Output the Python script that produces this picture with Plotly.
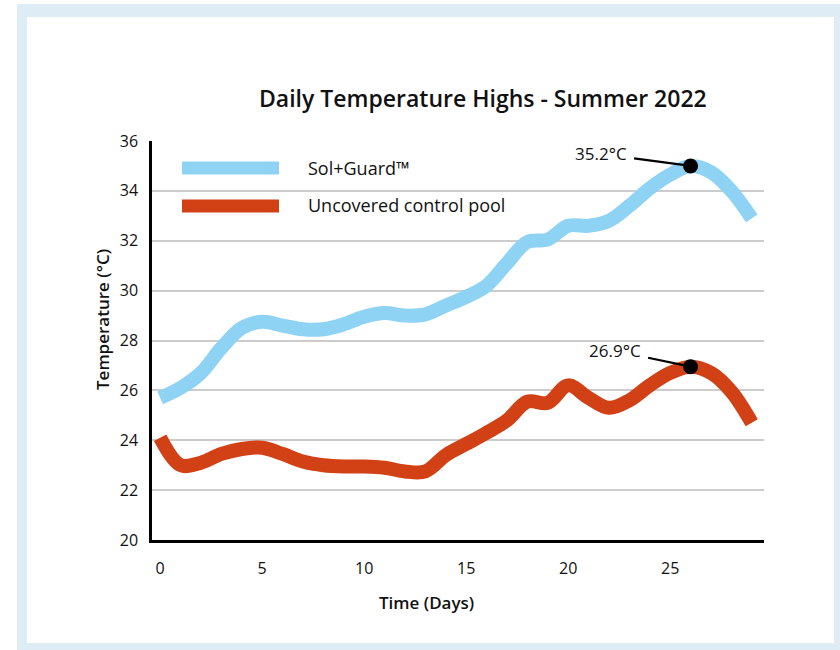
import plotly.graph_objects as go

days = list(range(0, 30))
solguard = [25.7, 26.1, 26.7, 27.7, 28.5, 28.75, 28.6, 28.45, 28.45, 28.65,
            28.95, 29.1, 29.0, 29.05, 29.4, 29.75, 30.2, 31.1, 31.95, 32.05,
            32.6, 32.6, 32.8, 33.4, 34.1, 34.65, 35.0, 34.75, 34.0, 32.9]
control = [24.1, 23.0, 23.1, 23.45, 23.65, 23.7, 23.45, 23.15, 23.0, 22.95,
           22.95, 22.9, 22.75, 22.75, 23.4, 23.85, 24.3, 24.8, 25.55, 25.5,
           26.2, 25.7, 25.3, 25.6, 26.2, 26.7, 26.95, 26.7, 25.95, 24.7]
series_names = ["Sol+Guard™", "Uncovered control pool"]
peak_day = 26
peak_labels = ["35.2°C", "26.9°C"]
y_ticks = [20, 22, 24, 26, 28, 30, 32, 34, 36]
x_ticks = [0, 5, 10, 15, 20, 25]

BLUE = "#8fd3f4"
RED = "#d24116"
FONT = "Open Sans"

# plot area in page pixels
L, R, T, B = 152, 764, 141, 540
W, H = 840, 650


def px(x):
    return (x - L) / (R - L)


def py(y):
    return (B - y) / (B - T)


fig = go.Figure()
fig.add_trace(go.Scatter(x=days, y=solguard, mode="lines", name=series_names[0],
                         line=dict(color=BLUE, width=14, shape="spline", smoothing=1.0),
                         showlegend=False, hoverinfo="skip"))
fig.add_trace(go.Scatter(x=days, y=control, mode="lines", name=series_names[1],
                         line=dict(color=RED, width=14, shape="spline", smoothing=1.0),
                         showlegend=False, hoverinfo="skip"))
peak_vals = [solguard[days.index(peak_day)], control[days.index(peak_day)]]
fig.add_trace(go.Scatter(x=[peak_day, peak_day], y=peak_vals, mode="markers",
                         marker=dict(color="black", size=15), showlegend=False,
                         hoverinfo="skip"))

shapes = [
    dict(type="rect", xref="paper", yref="paper", x0=px(17), x1=px(860),
         y0=py(4), y1=py(670), fillcolor="#deedf5", line_width=0, layer="below"),
    dict(type="rect", xref="paper", yref="paper", x0=px(27), x1=px(834),
         y0=py(17), y1=py(643), fillcolor="white", line_width=0, layer="below"),
    # legend swatches
    dict(type="line", xref="paper", yref="paper", x0=px(182), x1=px(279),
         y0=py(168), y1=py(168), line=dict(color=BLUE, width=13)),
    dict(type="line", xref="paper", yref="paper", x0=px(182), x1=px(279),
         y0=py(206), y1=py(206), line=dict(color=RED, width=13)),
]

annotations = [
    dict(text="Daily Temperature Highs - Summer 2022", xref="paper", yref="paper",
         x=px(483), y=py(98), showarrow=False, xanchor="center", yanchor="middle",
         font=dict(family=FONT, size=23, color="#111", weight=600)),
    dict(text="Time (Days)", xref="paper", yref="paper", x=px(426), y=py(602),
         showarrow=False, xanchor="center", yanchor="middle",
         font=dict(family=FONT, size=17, color="#111", weight=600)),
    dict(text="Temperature (°C)", xref="paper", yref="paper", x=px(102), y=py(320),
         showarrow=False, xanchor="center", yanchor="middle", textangle=-90,
         font=dict(family=FONT, size=17, color="#111", weight=600)),
    dict(text=series_names[0], xref="paper", yref="paper", x=px(306), y=py(168),
         showarrow=False, xanchor="left", yanchor="middle",
         font=dict(family=FONT, size=18, color="#111")),
    dict(text=series_names[1], xref="paper", yref="paper", x=px(306), y=py(205),
         showarrow=False, xanchor="left", yanchor="middle",
         font=dict(family=FONT, size=18, color="#111")),
    dict(text=peak_labels[0], x=peak_day, y=peak_vals[0], xref="x", yref="y",
         showarrow=True, arrowhead=0, arrowwidth=2.2, arrowcolor="black",
         ax=-90, ay=-12, standoff=0, borderpad=7,
         font=dict(family=FONT, size=17, color="#111")),
    dict(text=peak_labels[1], x=peak_day, y=peak_vals[1], xref="x", yref="y",
         showarrow=True, arrowhead=0, arrowwidth=2.2, arrowcolor="black",
         ax=-76, ay=-16, standoff=0, borderpad=7,
         font=dict(family=FONT, size=17, color="#111")),
]

fig.update_layout(
    width=W, height=H,
    margin=dict(l=L, r=W - R, t=T, b=H - B),
    paper_bgcolor="white",
    plot_bgcolor="rgba(0,0,0,0)",
    shapes=shapes,
    annotations=annotations,
    font=dict(family=FONT, size=16, color="#111"),
    hovermode=False,
)
fig.update_xaxes(range=[-0.4, 29.6], tickvals=x_ticks, showgrid=False,
                 showline=True, linecolor="black", linewidth=2.5,
                 zeroline=False, ticks="", ticklabelstandoff=12,
                 tickfont=dict(family=FONT, size=16, color="#111"))
fig.update_yaxes(range=[20, 36], tickvals=y_ticks, showgrid=True,
                 gridcolor="#cccccc", gridwidth=2,
                 showline=True, linecolor="black", linewidth=2.5,
                 zeroline=False, ticks="", ticklabelstandoff=8,
                 tickfont=dict(family=FONT, size=16, color="#111"))

fig.write_html("out.html",
               config={"displayModeBar": False},
               post_script="document.body.style.margin='0px';"
                           "document.body.style.overflow='hidden';")
